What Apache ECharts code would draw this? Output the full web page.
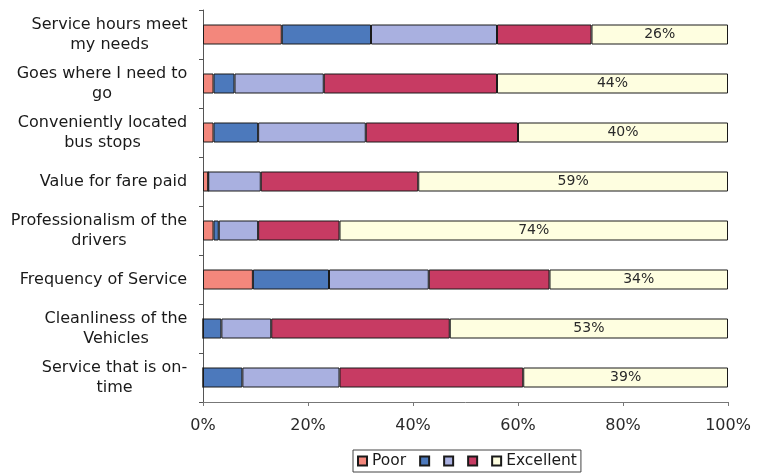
<!DOCTYPE html>
<html>
<head>
<meta charset="utf-8">
<script src="https://cdn.jsdelivr.net/npm/echarts@6/dist/echarts.min.js"></script>
<style>
  html, body { margin: 0; padding: 0; background: #fff; }
  #chart { width: 764px; height: 473px; }
</style>
</head>
<body>
<div id="chart"></div>
<script>
// Survey questions, top to bottom
const categories = [
  'Service hours meet\nmy needs',
  'Goes where I need to\ngo',
  'Conveniently located\nbus stops',
  'Value for fare paid',
  'Professionalism of the\ndrivers',
  'Frequency of Service',
  'Cleanliness of the\nVehicles',
  'Service that is on-\ntime'
];

// Share of responses (%) for each rating, Poor (1) to Excellent (5)
const poor      = [15, 2,  2,   1, 2,   9.5,  0,   0];
const rating2   = [17, 4,  8.5, 0, 1,   14.5, 3.5, 7.5];
const rating3   = [24, 17, 20.5, 10, 7.5, 19, 9.5, 18.5];
const rating4   = [18, 33, 29,  30, 15.5, 23, 34,  35];
const excellent = [26, 44, 40,  59, 74,  34,  53,  39];

const seriesNames  = ['Poor', '2', '3', '4', 'Excellent'];
const legendLabels = { 'Poor': 'Poor', '2': '', '3': '', '4': '', 'Excellent': 'Excellent' };
const xTicks = { min: 0, max: 100, interval: 20 };

const FONT = 'DejaVu Sans';
const CAT_SIZE = 16;

// Category labels: right-aligned blocks whose lines are centred on each other
const measure = document.createElement('canvas').getContext('2d');
measure.font = CAT_SIZE + 'px ' + FONT;
const rich = {};
categories.forEach((c, i) => {
  const w = Math.max(...c.split('\n').map(l => measure.measureText(l).width));
  rich['c' + i] = {
    width: Math.ceil(w) + 1,
    align: 'center',
    fontSize: CAT_SIZE,
    lineHeight: 20,
    fontFamily: FONT,
    color: '#1a1a1a'
  };
});

const colors = ['#F3877C', '#4C79BC', '#A9B0E0', '#C73B63', '#FEFEE0'];
const values = [poor, rating2, rating3, rating4, excellent];

const chart = echarts.init(document.getElementById('chart'), null, { renderer: 'canvas' });

chart.setOption({
  animation: false,
  grid: { left: 203, right: 36, top: 10, bottom: 71, containLabel: false },
  legend: {
    data: seriesNames,
    left: 353,
    bottom: 1,
    orient: 'horizontal',
    itemWidth: 9,
    itemHeight: 9,
    itemGap: 13,
    padding: [3, 4],
    borderColor: '#444',
    borderWidth: 1,
    icon: 'rect',
    formatter: name => legendLabels[name],
    textStyle: { fontFamily: FONT, fontSize: 15.5, color: '#1a1a1a' }
  },
  xAxis: {
    type: 'value',
    min: xTicks.min,
    max: xTicks.max,
    interval: xTicks.interval,
    axisLine: { show: true, lineStyle: { color: '#777', width: 1 } },
    axisTick: { show: true, length: 4, lineStyle: { color: '#777' } },
    splitLine: { show: false },
    axisLabel: {
      formatter: '{value}%',
      margin: 16,
      fontFamily: FONT,
      fontSize: 16,
      color: '#2a2a2a'
    }
  },
  yAxis: {
    type: 'category',
    data: categories,
    inverse: true,
    axisLine: { show: true, lineStyle: { color: '#555', width: 1 } },
    axisTick: { show: true, length: 4, lineStyle: { color: '#555' } },
    axisLabel: {
      interval: 0,
      margin: 15,
      align: 'right',
      formatter: (val, idx) => val.split('\n').map(l => '{c' + idx + '|' + l + '}').join('\n'),
      rich: rich
    }
  },
  series: seriesNames.map((name, k) => ({
    name: name,
    type: 'bar',
    stack: 'total',
    barWidth: 20,
    data: values[k],
    itemStyle: { color: colors[k], borderColor: '#1a1a1a', borderWidth: 1 },
    label: k === 4 ? {
      show: true,
      position: 'inside',
      formatter: '{c}%',
      fontFamily: FONT,
      fontSize: 14,
      color: '#2a2a2a'
    } : { show: false },
    emphasis: { disabled: true }
  }))
});
</script>
</body>
</html>
